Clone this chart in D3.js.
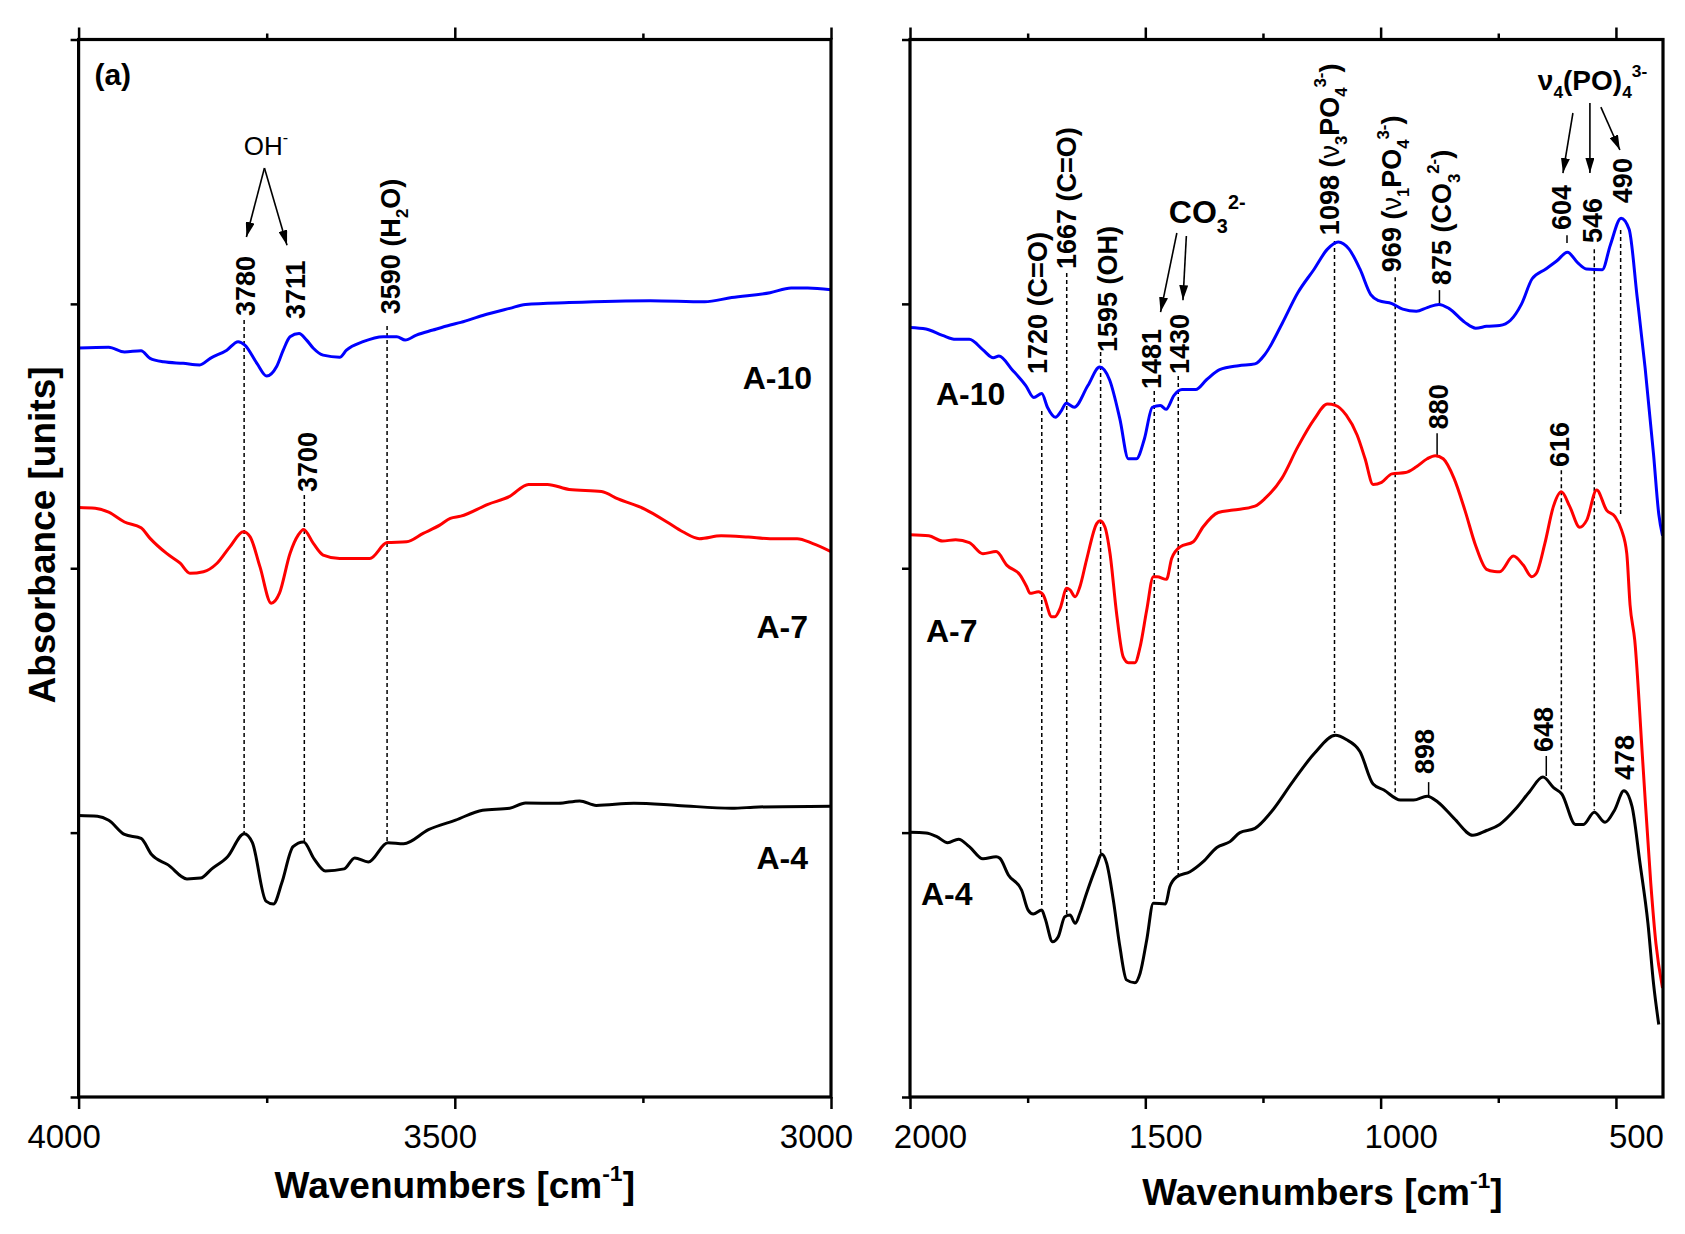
<!DOCTYPE html>
<html><head><meta charset="utf-8">
<script src="https://cdn.jsdelivr.net/npm/d3@7"></script>
<style>
body{margin:0;background:#fff}
text{font-family:"Liberation Sans",Arial,Helvetica,sans-serif;fill:#000}
</style>
</head><body>
<svg id="chart" width="1685" height="1234"></svg>
<script>
// ---------------- DATA (wavenumber [cm-1], absorbance [arb. units, offset]) ----------------
const a10High = [[4000,2.833],[3960,2.836],[3939,2.818],[3917,2.823],[3905,2.794],[3887,2.781],[3861,2.775],[3839,2.769],[3825,2.794],[3803,2.825],[3788,2.857],[3779,2.844],[3763,2.775],[3750,2.727],[3737,2.762],[3728,2.825],[3719,2.876],[3707,2.888],[3697,2.863],[3688,2.832],[3675,2.806],[3653,2.798],[3644,2.825],[3622,2.857],[3595,2.876],[3577,2.876],[3566,2.863],[3551,2.882],[3529,2.901],[3506,2.920],[3492,2.930],[3463,2.956],[3427,2.983],[3406,2.998],[3348,3.005],[3240,3.012],[3168,3.008],[3132,3.024],[3081,3.042],[3053,3.060],[3031,3.060],[3000,3.053]];
const a7High = [[4000,2.230],[3978,2.227],[3960,2.212],[3939,2.175],[3917,2.153],[3905,2.113],[3883,2.056],[3865,2.019],[3852,1.981],[3834,1.987],[3816,2.019],[3799,2.081],[3781,2.138],[3772,2.119],[3759,2.006],[3744,1.868],[3733,1.906],[3719,2.056],[3708,2.126],[3701,2.147],[3688,2.094],[3675,2.050],[3653,2.037],[3613,2.037],[3590,2.097],[3564,2.100],[3542,2.132],[3520,2.163],[3506,2.189],[3492,2.197],[3456,2.242],[3427,2.272],[3402,2.317],[3377,2.317],[3348,2.298],[3305,2.290],[3283,2.262],[3247,2.223],[3218,2.175],[3197,2.138],[3175,2.112],[3146,2.123],[3110,2.118],[3081,2.112],[3045,2.112],[3024,2.093],[3000,2.063]];
const a4High = [[4000,1.065],[3975,1.062],[3960,1.047],[3939,0.993],[3917,0.978],[3903,0.917],[3881,0.878],[3856,0.825],[3838,0.828],[3823,0.863],[3802,0.909],[3780,0.996],[3769,0.962],[3751,0.741],[3741,0.730],[3730,0.809],[3715,0.947],[3701,0.965],[3687,0.901],[3672,0.855],[3647,0.863],[3633,0.904],[3615,0.889],[3589,0.962],[3568,0.958],[3535,1.011],[3499,1.047],[3463,1.085],[3427,1.092],[3406,1.112],[3362,1.111],[3334,1.120],[3312,1.103],[3262,1.111],[3204,1.103],[3132,1.092],[3096,1.097],[3000,1.100]];

const a10Low = [[2000,2.911],[1966,2.905],[1931,2.881],[1903,2.866],[1874,2.866],[1845,2.826],[1823,2.796],[1811,2.803],[1783,2.751],[1754,2.691],[1737,2.646],[1720,2.661],[1708,2.609],[1691,2.571],[1679,2.594],[1668,2.624],[1651,2.609],[1622,2.691],[1597,2.761],[1576,2.713],[1554,2.564],[1536,2.414],[1519,2.414],[1502,2.489],[1485,2.609],[1468,2.616],[1456,2.601],[1439,2.654],[1422,2.676],[1393,2.676],[1370,2.713],[1342,2.751],[1302,2.766],[1267,2.773],[1245,2.811],[1210,2.923],[1176,3.042],[1141,3.132],[1113,3.207],[1090,3.234],[1067,3.207],[1044,3.132],[1021,3.035],[1004,3.012],[976,3.001],[953,2.980],[924,2.972],[901,2.986],[876,2.998],[855,2.983],[821,2.930],[798,2.908],[775,2.915],[747,2.918],[724,2.938],[701,2.998],[678,3.095],[649,3.132],[626,3.162],[603,3.195],[581,3.155],[563,3.132],[529,3.129],[512,3.222],[489,3.324],[472,3.282],[455,3.027],[438,2.758],[420,2.429],[409,2.205],[401,2.123]];
const a7Low = [[2000,2.127],[1960,2.123],[1931,2.103],[1903,2.108],[1874,2.097],[1845,2.055],[1817,2.063],[1794,2.011],[1766,1.974],[1752,1.930],[1745,1.905],[1727,1.911],[1717,1.899],[1699,1.817],[1692,1.817],[1681,1.848],[1667,1.924],[1660,1.918],[1649,1.892],[1639,1.930],[1625,2.031],[1603,2.170],[1596,2.180],[1586,2.157],[1575,2.056],[1561,1.829],[1547,1.665],[1536,1.643],[1522,1.643],[1511,1.703],[1497,1.842],[1483,1.968],[1475,1.968],[1455,1.958],[1444,2.037],[1426,2.081],[1398,2.100],[1377,2.157],[1345,2.211],[1313,2.220],[1267,2.235],[1245,2.265],[1210,2.340],[1176,2.459],[1141,2.564],[1113,2.621],[1096,2.616],[1073,2.579],[1050,2.504],[1033,2.414],[1016,2.317],[998,2.325],[976,2.357],[947,2.362],[924,2.384],[901,2.414],[884,2.426],[867,2.414],[844,2.340],[821,2.220],[798,2.085],[775,1.996],[758,1.988],[747,1.987],[718,2.046],[697,2.012],[679,1.968],[669,1.981],[651,2.094],[633,2.233],[616,2.289],[598,2.233],[577,2.155],[562,2.182],[541,2.296],[520,2.220],[502,2.195],[488,2.144],[477,2.056],[470,1.861],[460,1.727],[443,1.268],[426,0.809],[415,0.580],[401,0.412]];
const a4Low = [[2000,1.001],[1966,0.999],[1943,0.985],[1920,0.962],[1897,0.975],[1874,0.947],[1845,0.901],[1817,0.909],[1809,0.903],[1791,0.840],[1763,0.783],[1749,0.707],[1738,0.692],[1720,0.707],[1713,0.676],[1697,0.587],[1685,0.606],[1671,0.682],[1660,0.688],[1649,0.657],[1639,0.695],[1625,0.770],[1603,0.877],[1593,0.919],[1582,0.884],[1568,0.745],[1554,0.568],[1540,0.443],[1522,0.432],[1511,0.468],[1497,0.594],[1483,0.733],[1457,0.730],[1448,0.795],[1433,0.833],[1405,0.852],[1377,0.890],[1348,0.944],[1320,0.966],[1299,1.000],[1267,1.016],[1233,1.077],[1187,1.192],[1141,1.299],[1096,1.368],[1073,1.352],[1044,1.307],[1016,1.184],[993,1.161],[958,1.123],[930,1.123],[901,1.138],[878,1.115],[844,1.054],[804,0.990],[775,1.008],[747,1.031],[712,1.092],[684,1.154],[655,1.210],[632,1.169],[615,1.146],[586,1.031],[569,1.031],[546,1.077],[523,1.039],[503,1.085],[483,1.158],[466,1.100],[449,0.886],[432,0.657],[420,0.427],[409,0.274]];

const sampleNames = ["A-10","A-7","A-4"];
const sampleColors = ["#0000ff","#ff0000","#000000"];

const highTicks = [4000,3500,3000];
const highMinor = [3750,3250];
const lowTicks = [2000,1500,1000,500];
const lowMinor = [1750,1250,750];
const yTicks = [0,1,2,3,4];

// peak marker positions (wavenumber) and the y-range (absorbance) of dashed guides
const highGuides = [[3780,2.939,0.998],[3700,2.277,0.964],[3590,2.916,0.964]];
const lowGuides = [[1720,2.595,0.726],[1667,3.117,0.688],[1595,2.818,0.919],[1481,2.670,0.734],[1430,2.727,0.840],[1098,3.238,1.377],[969,3.101,1.146],[616,2.371,1.154],[546,3.207,1.085],[490,3.279,2.205]];
const lowStubs = [[875,3.052,2.995],[880,2.511,2.428],[604,3.260,3.230],[898,1.191,1.138],[648,1.290,1.214]];

// peak labels: [wavenumber, absorbance at text start, offset, rich-text segments]
const highLabels = [
  [3780,2.954,11,[["3780"]]],
  [3711,2.943,9,[["3711"]]],
  [3590,2.961,13,[["3590 (H"],["2","sub"],["O)"]]],
  [3700,2.288,13,[["3700"]]]
];
const lowLabels = [
  [1720,2.735,5,[["1720 (C=O)"]]],
  [1667,3.132,9,[["1667 (C=O)"]]],
  [1595,2.818,16,[["1595 (OH)"]]],
  [1481,2.678,7,[["1481"]]],
  [1430,2.735,11,[["1430"]]],
  [1098,3.260,4,[["1098 ("],["ν","nu"],["3","sub"],["PO"],["4","sub"],["3-","sup"],[")"]]],
  [969,3.120,6,[["969 ("],["ν","nu"],["1","sub"],["PO"],["4","sub"],["3-","sup"],[")"]]],
  [875,3.071,12,[["875 (CO"],["3","sub"],["2-","sup"],[")"]]],
  [604,3.279,4,[["604"]]],
  [546,3.230,8,[["546"]]],
  [490,3.381,11,[["490"]]],
  [880,2.526,11,[["880"]]],
  [616,2.383,8,[["616"]]],
  [898,1.222,5,[["898"]]],
  [648,1.305,7,[["648"]]],
  [478,1.199,8,[["478"]]]
];
// arrows: [from wn, from abs, to wn, to abs]
const highArrows = [[3753,3.514,3777,3.253],[3753,3.514,3723,3.222]];
const lowArrows = [[1433,3.268,1467.6,2.969],[1412.8,3.257,1420,3.014],[591.4,3.722,612.6,3.495],[555.3,3.760,555.3,3.495],[532,3.744,491.6,3.582]];

// ---------------- LAYOUT ----------------
const svg = d3.select("#chart");
const yTop = 39.5, yBot = 1097;
const y = d3.scaleLinear().domain([0,4]).range([yBot, yTop]);
const xHigh = d3.scaleLinear().domain([4000,3000]).range([78.6,831]);
const xLow = d3.scaleLinear().domain([2000,400]).range([910,1663]);

const defs = svg.append("defs");
defs.append("marker").attr("id","arrow").attr("viewBox","0 0 10 10")
  .attr("refX",10).attr("refY",5).attr("markerWidth",15).attr("markerHeight",9)
  .attr("markerUnits","userSpaceOnUse").attr("orient","auto").attr("preserveAspectRatio","none")
  .append("path").attr("d","M0,0L10,5L0,10Z").attr("fill","#000");

function rich(textSel, segs, size){
  let cur = 0;
  segs.forEach(([t,k])=>{
    const small = (k==="sub"||k==="sup");
    const target = k==="sub" ? size*0.30 : (k==="sup" ? -size*0.45 : 0);
    const ts = textSel.append("tspan").text(t).attr("dy", target-cur)
      .attr("font-size", small ? size*0.62 : size);
    if(k==="nu") ts.attr("font-weight","normal");
    cur = target;
  });
}

function panel(id, x, ticks, minor, series, guides, stubs, labels, arrows, tickDx){
  const g = svg.append("g").attr("id", id);
  const [x0,x1] = x.range();
  defs.append("clipPath").attr("id","clip-"+id).append("rect")
    .attr("x",x0).attr("y",yTop).attr("width",x1-x0).attr("height",yBot-yTop);

  // dashed guides
  g.append("g").selectAll("line").data(guides).join("line")
    .attr("x1",d=>x(d[0])).attr("x2",d=>x(d[0]))
    .attr("y1",d=>y(d[1])).attr("y2",d=>y(d[2]))
    .attr("stroke","#000").attr("stroke-width",1.5).attr("stroke-dasharray","4,3");
  g.append("g").selectAll("line").data(stubs).join("line")
    .attr("x1",d=>x(d[0])).attr("x2",d=>x(d[0]))
    .attr("y1",d=>y(d[1])).attr("y2",d=>y(d[2]))
    .attr("stroke","#000").attr("stroke-width",1.5);

  // curves
  const line = d3.line().x(d=>x(d[0])).y(d=>y(d[1])).curve(d3.curveMonotoneX);
  g.append("g").attr("clip-path","url(#clip-"+id+")")
    .selectAll("path").data(series).join("path")
    .attr("d",d=>line(d.values)).attr("fill","none")
    .attr("stroke",d=>d.color).attr("stroke-width",3).attr("stroke-linejoin","round");

  // axes
  const styleAxis = a => { a.select(".domain").remove(); a.selectAll(".tick line").attr("stroke","#000").attr("stroke-width",2.5); };
  const bot = g.append("g").attr("transform",`translate(0,${yBot})`)
    .call(d3.axisBottom(x).tickValues(ticks).tickSize(12).tickFormat(d3.format("d")));
  styleAxis(bot);
  bot.selectAll(".tick text").attr("y",28).attr("dx",tickDx)
    .attr("font-size",33).attr("font-family",'"Liberation Sans",Arial,sans-serif').attr("fill","#000");
  styleAxis(g.append("g").attr("transform",`translate(0,${yBot})`)
    .call(d3.axisBottom(x).tickValues(minor).tickSize(6).tickFormat("")));
  styleAxis(g.append("g").attr("transform",`translate(0,${yTop})`)
    .call(d3.axisTop(x).tickValues(ticks).tickSize(12).tickFormat("")));
  styleAxis(g.append("g").attr("transform",`translate(0,${yTop})`)
    .call(d3.axisTop(x).tickValues(minor).tickSize(6).tickFormat("")));
  styleAxis(g.append("g").attr("transform",`translate(${x0},0)`)
    .call(d3.axisLeft(y).tickValues(yTicks).tickSize(8).tickFormat("")));
  g.append("rect").attr("x",x0).attr("y",yTop).attr("width",x1-x0).attr("height",yBot-yTop)
    .attr("fill","none").attr("stroke","#000").attr("stroke-width",3.2);

  // peak labels (vertical)
  labels.forEach(([wn,v,dx,segs])=>{
    const t = g.append("text").attr("font-weight","bold").attr("font-size",27)
      .attr("transform",`translate(${x(wn)+dx},${y(v)}) rotate(-90)`);
    rich(t, segs, 27);
  });
  // arrows
  g.append("g").selectAll("line").data(arrows).join("line")
    .attr("x1",d=>x(d[0])).attr("y1",d=>y(d[1])).attr("x2",d=>x(d[2])).attr("y2",d=>y(d[3]))
    .attr("stroke","#000").attr("stroke-width",1.6).attr("marker-end","url(#arrow)");
  return g;
}

const gHigh = panel("high", xHigh, highTicks, highMinor,
  [a10High,a7High,a4High].map((v,i)=>({values:v,color:sampleColors[i]})),
  highGuides, [], highLabels, highArrows, -15);
const gLow = panel("low", xLow, lowTicks, lowMinor,
  [a10Low,a7Low,a4Low].map((v,i)=>({values:v,color:sampleColors[i]})),
  lowGuides, lowStubs, lowLabels, lowArrows, 20);

// sample labels
const highNameAbs = [2.678,1.736,0.862];
const lowNameAbs = [2.617,1.721,0.726];
const highNameX = [812,808,808];
const lowNameX = [936,926,921];
sampleNames.forEach((n,i)=>{
  gHigh.append("text").attr("x",highNameX[i]).attr("y",y(highNameAbs[i])).attr("text-anchor","end")
    .attr("font-weight","bold").attr("font-size",32).text(n);
  gLow.append("text").attr("x",lowNameX[i]).attr("y",y(lowNameAbs[i])).attr("text-anchor","start")
    .attr("font-weight","bold").attr("font-size",32).text(n);
});

// group annotations
gHigh.append("text").attr("x",xHigh(3979)).attr("y",y(3.827)).attr("font-weight","bold").attr("font-size",30).text("(a)");
rich(gHigh.append("text").attr("x",xHigh(3751)).attr("y",y(3.563)).attr("text-anchor","middle").attr("font-size",26),
  [["OH"],["-","sup"]], 26);
rich(gLow.append("text").attr("x",xLow(1450)).attr("y",y(3.306)).attr("font-weight","bold").attr("font-size",32),
  [["CO"],["3","sub"],["2-","sup"]], 32);
rich(gLow.append("text").attr("x",xLow(666)).attr("y",y(3.809)).attr("font-weight","bold").attr("font-size",28),
  [["ν"],["4","sub"],["(PO)"],["4","sub"],["3-","sup"]], 28);

// axis titles
rich(svg.append("text").attr("x",(xHigh.range()[0]+xHigh.range()[1])/2).attr("y",1198)
  .attr("text-anchor","middle").attr("font-weight","bold").attr("font-size",37),
  [["Wavenumbers [cm"],["-1","sup"],["]"]], 37);
rich(svg.append("text").attr("x",(xLow.range()[0]+xLow.range()[1])/2 + 36).attr("y",1205)
  .attr("text-anchor","middle").attr("font-weight","bold").attr("font-size",37),
  [["Wavenumbers [cm"],["-1","sup"],["]"]], 37);
svg.append("text").attr("transform","translate(55,535) rotate(-90)").attr("text-anchor","middle")
  .attr("font-weight","bold").attr("font-size",37).text("Absorbance [units]");
</script>
</body></html>
